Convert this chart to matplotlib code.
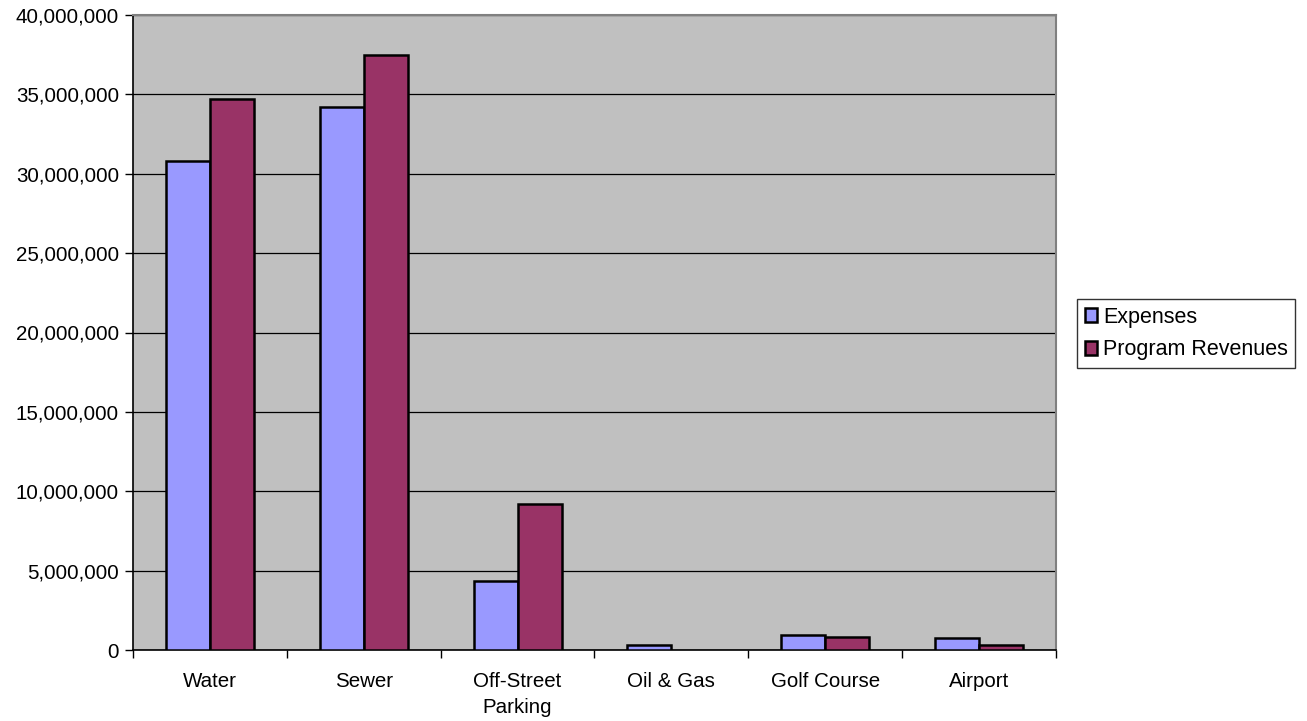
import matplotlib
matplotlib.use("Agg")
import matplotlib.pyplot as plt
import numpy as np
from matplotlib.ticker import FuncFormatter

categories = ["Water", "Sewer", "Off-Street\nParking", "Oil & Gas", "Golf Course", "Airport"]
expenses = [30800000, 34200000, 4350000, 320000, 950000, 780000]
revenues = [34700000, 37500000, 9200000, 0, 840000, 300000]
series_names = ["Expenses", "Program Revenues"]
y_ticks = [0, 5000000, 10000000, 15000000, 20000000, 25000000, 30000000, 35000000, 40000000]

plt.rcParams['font.family'] = ['Liberation Sans', 'DejaVu Sans']
fs = 14.8

fig = plt.figure(figsize=(13.07, 7.21), dpi=100)
ax = fig.add_axes([133 / 1307, 1 - 650 / 721, (1056 - 133) / 1307, (650 - 15) / 721])
ax.set_facecolor("#C0C0C0")

x = np.arange(len(categories))
w = 1 / 3.5
# no outline on empty bars
lw_e = [1.8 if v > 0 else 0 for v in expenses]
lw_r = [1.8 if v > 0 else 0 for v in revenues]
ax.bar(x - w / 2, expenses, w, color="#9999FF", edgecolor="black", linewidth=lw_e,
       label=series_names[0], zorder=3)
ax.bar(x + w / 2, revenues, w, color="#993366", edgecolor="black", linewidth=lw_r,
       label=series_names[1], zorder=3)

ax.set_xlim(-0.5, len(categories) - 0.5)
ax.set_ylim(0, 40000000)
ax.set_yticks(y_ticks)
ax.yaxis.set_major_formatter(FuncFormatter(lambda v, p: f"{int(v):,}"))
ax.yaxis.grid(True, color="black", linewidth=0.9, zorder=1)
ax.set_axisbelow(True)

# category labels centered, ticks at boundaries
ax.set_xticks(x)
ax.set_xticklabels(categories, fontsize=fs, linespacing=1.45)
ax.tick_params(axis="x", length=0, pad=16)
ax.set_xticks(np.arange(len(categories) + 1) - 0.5, minor=True)
ax.tick_params(axis="x", which="minor", length=6, width=1, direction="out")
ax.tick_params(axis="y", labelsize=fs, length=6, width=1, direction="out", pad=4)

for s in ["top", "right"]:
    ax.spines[s].set_color("#808080")
    ax.spines[s].set_linewidth(1.5)
for s in ["left", "bottom"]:
    ax.spines[s].set_color("black")
    ax.spines[s].set_linewidth(1.2)

leg = fig.legend(loc="upper left", bbox_to_anchor=(1077 / 1307, 1 - 299 / 721),
                 fontsize=15.5, frameon=True, fancybox=False, edgecolor="black",
                 handlelength=0.6, handleheight=0.6, handletextpad=0.25,
                 borderpad=0.35, labelspacing=0.55, borderaxespad=0)
leg.get_frame().set_linewidth(1.0)
for h in leg.legend_handles:
    h.set_linewidth(1.8)

fig.savefig("out.png", dpi=100)
